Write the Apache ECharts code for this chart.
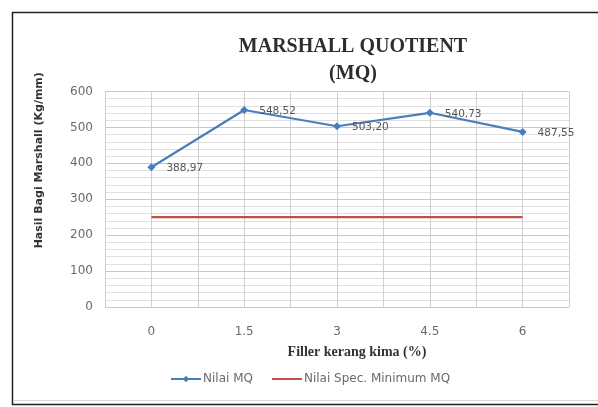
<!DOCTYPE html>
<html>
<head>
<meta charset="utf-8">
<script src="https://cdn.jsdelivr.net/npm/echarts@6/dist/echarts.min.js"></script>
<style>
html,body{margin:0;padding:0;background:#fff;}
#chart{width:598px;height:407px;}
</style>
</head>
<body>
<div id="chart"></div>
<script>
// Filler percentages along the x axis
const fillerValues = [0, 1.5, 3, 4.5, 6];
const fillerLabels = ['0', '1.5', '3', '4.5', '6'];
// Marshall Quotient results (Kg/mm)
const mqValues = [388.97, 548.52, 503.20, 540.73, 487.55];
// Minimum specification for MQ
const specValues = [250, 250, 250, 250, 250];

const chart = echarts.init(document.getElementById('chart'));

const toPairs = (ys) => fillerValues.map((x, i) => [x, ys[i]]);
const labelFor = (v) => {
  const i = fillerValues.findIndex(x => Math.abs(x - v) < 1e-6);
  return i >= 0 ? fillerLabels[i] : '';
};

const sans = 'DejaVu Sans';

chart.setOption({
  backgroundColor: '#ffffff',
  animation: false,
  title: {
    text: 'MARSHALL QUOTIENT\n(MQ)',
    left: 348,
    textAlign: 'center',
    top: 28,
    textStyle: {
      fontFamily: 'Liberation Serif',
      fontWeight: 'bold',
      fontSize: 20,
      lineHeight: 27,
      color: '#2e2e2e'
    }
  },
  graphic: [
    {
      type: 'rect',
      shape: { x: 12.5, y: 12.5, width: 600, height: 392 },
      style: { fill: 'none', stroke: '#222222', lineWidth: 1.5 },
      silent: true
    },
    {
      type: 'line',
      shape: { x1: 14, y1: 400.5, x2: 598, y2: 400.5 },
      style: { stroke: '#d8d8d8', lineWidth: 1 },
      silent: true
    }
  ],
  legend: {
    top: 368,
    left: 165,
    itemGap: 18,
    itemWidth: 30,
    itemHeight: 8,
    textStyle: { fontFamily: sans, fontSize: 12, color: '#6a6a6a', padding: [0, 0, 0, -3] },
    data: [
      { name: 'Nilai MQ' },
      { name: 'Nilai Spec. Minimum MQ', itemStyle: { opacity: 0 } }
    ]
  },
  grid: { left: 105, right: 29, top: 91.5, bottom: 100, containLabel: false },
  xAxis: {
    type: 'value',
    min: -0.75,
    max: 6.75,
    interval: 0.75,
    name: 'Filler kerang kima (%)',
    nameLocation: 'middle',
    nameGap: 38,
    nameTextStyle: {
      fontFamily: 'Liberation Serif',
      fontWeight: 'bold',
      fontSize: 14,
      color: '#333333',
      padding: [0, 0, 0, 40]
    },
    axisLine: { show: false },
    axisTick: { show: false },
    axisLabel: {
      formatter: labelFor,
      margin: 19,
      fontFamily: sans,
      fontSize: 12,
      color: '#6a6a6a'
    },
    splitLine: { show: true, lineStyle: { color: '#d0d0d0', width: 1 } }
  },
  yAxis: {
    type: 'value',
    min: 0,
    max: 600,
    interval: 100,
    name: 'Hasil Bagi Marshall (Kg/mm)',
    nameLocation: 'middle',
    nameGap: 60,
    nameTextStyle: {
      fontFamily: sans,
      fontWeight: 'bold',
      fontSize: 11,
      color: '#333333',
      padding: [0, 0, 0, 78]
    },
    axisLine: { show: false },
    axisTick: { show: false },
    axisLabel: {
      margin: 12,
      fontFamily: sans,
      fontSize: 12,
      color: '#6a6a6a'
    },
    splitLine: { show: true, lineStyle: { color: '#c8c8c8', width: 1 } },
    minorTick: { show: false, splitNumber: 5 },
    minorSplitLine: { show: true, lineStyle: { color: '#e0e0e0', width: 1 } }
  },
  series: [
    {
      name: 'Nilai MQ',
      type: 'line',
      data: toPairs(mqValues),
      symbol: 'diamond',
      symbolSize: 8,
      lineStyle: { color: '#4a7ebb', width: 2.2 },
      itemStyle: { color: '#4a7ebb' },
      label: {
        show: true,
        position: 'right',
        distance: 11,
        offset: [0, 1],
        fontFamily: sans,
        fontSize: 10.5,
        color: '#555555',
        formatter: (p) => p.value[1].toFixed(2).replace('.', ',')
      },
      z: 3
    },
    {
      name: 'Nilai Spec. Minimum MQ',
      type: 'line',
      data: toPairs(specValues),
      symbol: 'circle',
      showSymbol: false,
      lineStyle: { color: '#c0504d', width: 2.2 },
      itemStyle: { color: '#c0504d' },
      z: 2
    }
  ]
});
</script>
</body>
</html>
